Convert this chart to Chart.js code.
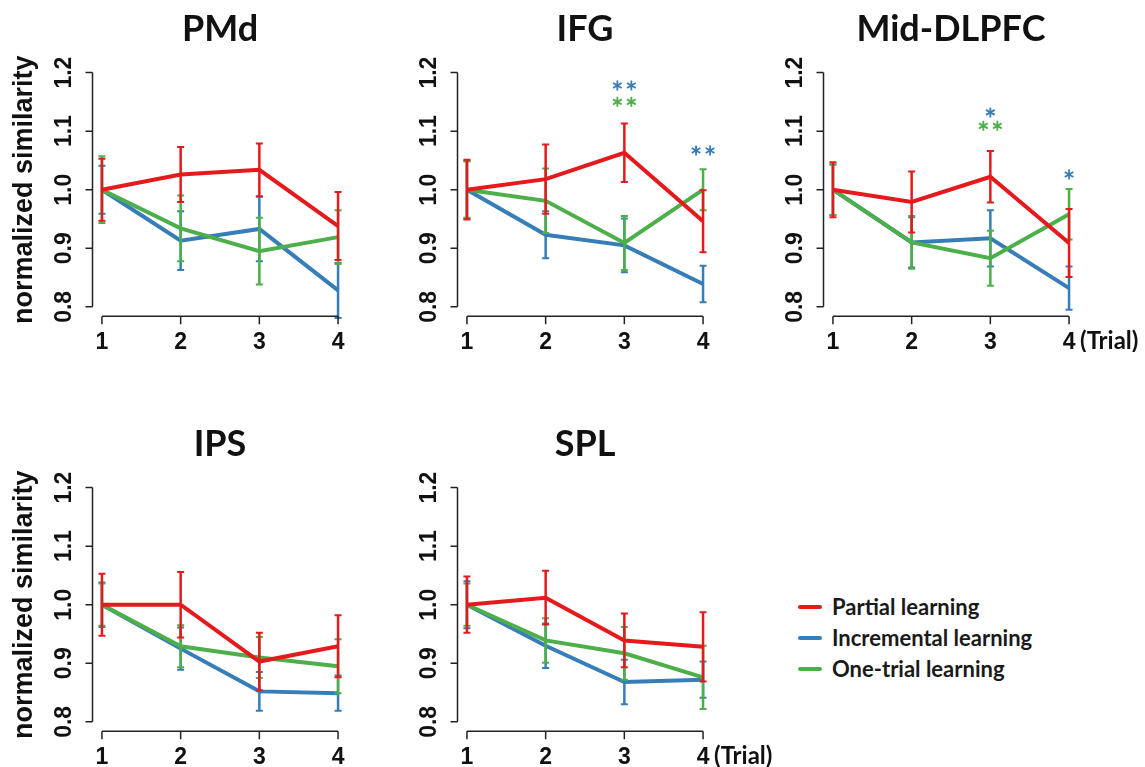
<!DOCTYPE html>
<html>
<head>
<meta charset="utf-8">
<script src="https://cdn.jsdelivr.net/npm/chart.js@4.4.1/dist/chart.umd.min.js"></script>
<style>
    body { margin: 0; background: #fff; width: 1145px; height: 767px; position: relative; overflow: hidden; }
    .panel { position: absolute; }
    #legend { position: absolute; left: 798px; top: 591px; font: bold 22px Lato, sans-serif; color: #1a1a1a; }
    #legend div { height: 31px; display: flex; align-items: center; }
    #legend .sw { display: inline-block; width: 24px; height: 4px; border-radius: 2px; margin-right: 10px; }
</style>
</head>
<body>
<div class="panel" style="left:0px;top:0px"><canvas id="pmd" width="380" height="352"></canvas></div>
<div class="panel" style="left:365px;top:0px"><canvas id="ifg" width="380" height="352"></canvas></div>
<div class="panel" style="left:731px;top:0px"><canvas id="dlpfc" width="414" height="352"></canvas></div>
<div class="panel" style="left:0px;top:415px"><canvas id="ips" width="380" height="352"></canvas></div>
<div class="panel" style="left:365px;top:415px"><canvas id="spl" width="414" height="352"></canvas></div>
<div id="legend"></div>

<script>
// Trials and series
const trials = [1, 2, 3, 4];
const seriesNames = ['Partial learning', 'Incremental learning', 'One-trial learning'];
const seriesColors = ['#e41a1c', '#377eb8', '#4daf4a'];
const yTicks = [0.8, 0.9, 1.0, 1.1, 1.2];
const yTickLabels = ['0.8', '0.9', '1.0', '1.1', '1.2'];

// PMd
const pmdPartial = [1.000, 1.026, 1.034, 0.938];
const pmdPartialErr = [0.053, 0.047, 0.045, 0.058];
const pmdIncremental = [1.000, 0.913, 0.933, 0.828];
const pmdIncrementalErr = [0.041, 0.050, 0.055, 0.047];
const pmdOneTrial = [1.000, 0.934, 0.895, 0.919];
const pmdOneTrialErr = [0.057, 0.056, 0.057, 0.046];

// IFG
const ifgPartial = [1.000, 1.018, 1.063, 0.946];
const ifgPartialErr = [0.051, 0.059, 0.050, 0.053];
const ifgIncremental = [1.000, 0.923, 0.905, 0.839];
const ifgIncrementalErr = [0.049, 0.040, 0.046, 0.031];
const ifgOneTrial = [1.000, 0.981, 0.909, 1.000];
const ifgOneTrialErr = [0.048, 0.055, 0.046, 0.035];

// Mid-DLPFC
const dlpfcPartial = [1.000, 0.979, 1.022, 0.909];
const dlpfcPartialErr = [0.047, 0.052, 0.044, 0.058];
const dlpfcIncremental = [1.000, 0.910, 0.917, 0.832];
const dlpfcIncrementalErr = [0.043, 0.043, 0.048, 0.037];
const dlpfcOneTrial = [1.000, 0.910, 0.883, 0.958];
const dlpfcOneTrialErr = [0.043, 0.045, 0.047, 0.043];

// IPS
const ipsPartial = [1.000, 1.000, 0.903, 0.929];
const ipsPartialErr = [0.053, 0.056, 0.049, 0.053];
const ipsIncremental = [1.000, 0.925, 0.852, 0.849];
const ipsIncrementalErr = [0.038, 0.036, 0.033, 0.030];
const ipsOneTrial = [1.000, 0.929, 0.910, 0.895];
const ipsOneTrialErr = [0.036, 0.036, 0.035, 0.046];

// SPL
const splPartial = [1.000, 1.012, 0.939, 0.928];
const splPartialErr = [0.048, 0.046, 0.046, 0.059];
const splIncremental = [1.000, 0.930, 0.868, 0.872];
const splIncrementalErr = [0.040, 0.038, 0.038, 0.031];
const splOneTrial = [1.000, 0.939, 0.917, 0.876];
const splOneTrialErr = [0.036, 0.038, 0.045, 0.054];

// significance marks: [trial, y, number of stars, series index]
const ifgStars = [[3, 1.178, 2, 1], [3, 1.150, 2, 2], [4, 1.067, 2, 1]];
const dlpfcStars = [[3, 1.132, 1, 1], [3, 1.109, 2, 2], [4, 1.026, 1, 1]];

const TICK_FONT = "bold 23px 'Liberation Sans', Arial, sans-serif";

// error bars drawn right after each line so layering follows the lines
const errorBarPlugin = {
    id: 'errorBars',
    afterDatasetDraw(chart, args) {
        const ds = chart.data.datasets[args.index];
        const xs = chart.scales.x, ys = chart.scales.y;
        const ctx = chart.ctx;
        ctx.save();
        ctx.strokeStyle = ds.borderColor;
        ds.data.forEach((p, k) => {
            const e = ds.errors[k];
            const px = xs.getPixelForValue(p.x);
            const top = ys.getPixelForValue(p.y + e);
            const bot = ys.getPixelForValue(p.y - e);
            ctx.lineWidth = 2.5;
            ctx.beginPath();
            ctx.moveTo(px, top); ctx.lineTo(px, bot);
            ctx.stroke();
            ctx.lineWidth = 2;
            ctx.beginPath();
            ctx.moveTo(px - 3.5, top); ctx.lineTo(px + 3.5, top);
            ctx.moveTo(px - 3.5, bot); ctx.lineTo(px + 3.5, bot);
            ctx.stroke();
        });
        ctx.restore();
    }
};

// R-style axes: lines only span the tick range
const rAxesPlugin = {
    id: 'rAxes',
    afterDraw(chart, args, opts) {
        const ctx = chart.ctx;
        const xs = chart.scales.x, ys = chart.scales.y;
        const area = chart.chartArea;
        ctx.save();
        ctx.strokeStyle = '#222';
        ctx.fillStyle = '#111';
        ctx.lineWidth = 1.5;

        // y axis
        const yTop = ys.getPixelForValue(yTicks[yTicks.length - 1]);
        const yBot = ys.getPixelForValue(yTicks[0]);
        ctx.beginPath();
        ctx.moveTo(area.left, yTop); ctx.lineTo(area.left, yBot);
        yTicks.forEach(v => {
            const py = ys.getPixelForValue(v);
            ctx.moveTo(area.left, py); ctx.lineTo(area.left - 7, py);
        });
        // x axis
        const xL = xs.getPixelForValue(trials[0]);
        const xR = xs.getPixelForValue(trials[trials.length - 1]);
        ctx.moveTo(xL, area.bottom); ctx.lineTo(xR, area.bottom);
        trials.forEach(t => {
            const px = xs.getPixelForValue(t);
            ctx.moveTo(px, area.bottom); ctx.lineTo(px, area.bottom + 8);
        });
        ctx.stroke();

        // y tick labels, rotated
        ctx.font = TICK_FONT;
        ctx.textAlign = 'center';
        ctx.textBaseline = 'middle';
        yTicks.forEach((v, i) => {
            ctx.save();
            ctx.translate(area.left - 28, ys.getPixelForValue(v));
            ctx.rotate(-Math.PI / 2);
            ctx.fillText(yTickLabels[i], 0, 0);
            ctx.restore();
        });
        // x tick labels
        trials.forEach(t => {
            ctx.fillText(String(t), xs.getPixelForValue(t), area.bottom + 26);
        });

        if (opts.trialLabel) {
            ctx.textAlign = 'left';
            ctx.font = "bold 24px Lato, sans-serif";
            ctx.fillText('(Trial)', xR + 11, area.bottom + 25);
        }

        if (opts.yTitle) {
            ctx.save();
            ctx.font = "bold 27px 'Liberation Sans', Arial, sans-serif";
            ctx.textAlign = 'center';
            ctx.translate(area.left - 68, (yTop + yBot) / 2);
            ctx.rotate(-Math.PI / 2);
            ctx.fillText(opts.yTitle, 0, 0);
            ctx.restore();
        }

        // asterisks
        (opts.stars || []).forEach(s => {
            const [t, v, n, si] = s;
            const cx = xs.getPixelForValue(t), cy = ys.getPixelForValue(v);
            ctx.strokeStyle = seriesColors[si];
            ctx.lineWidth = 1.8;
            for (let j = 0; j < n; j++) {
                const sx = cx + (n === 2 ? (j === 0 ? -7 : 7) : 0);
                ctx.beginPath();
                for (let a = 0; a < 3; a++) {
                    const ang = Math.PI / 2 + a * Math.PI / 3;
                    ctx.moveTo(sx - 5 * Math.cos(ang), cy - 5 * Math.sin(ang));
                    ctx.lineTo(sx + 5 * Math.cos(ang), cy + 5 * Math.sin(ang));
                }
                ctx.stroke();
            }
        });
        ctx.restore();
    }
};

function makePanel(id, title, series, extra) {
    const canvas = document.getElementById(id);
    const drawOrder = [0, 2, 1]; // red on top, then green, blue underneath
    const datasets = series.map((s, i) => ({
        label: seriesNames[i],
        data: trials.map((t, k) => ({ x: t, y: s[0][k] })),
        errors: s[1],
        borderColor: seriesColors[i],
        backgroundColor: seriesColors[i],
        borderWidth: 4,
        pointRadius: 0,
        tension: 0,
        order: drawOrder[i]
    }));

    return new Chart(canvas, {
        type: 'line',
        data: { datasets: datasets },
        options: {
            responsive: false,
            animation: false,
            layout: {
                padding: { left: 92.5, right: canvas.width - 92.5 - 255, top: 0, bottom: 35.8 }
            },
            scales: {
                x: { type: 'linear', min: 0.88, max: 4.12, display: false },
                y: { type: 'linear', min: 0.784, max: 1.216, display: false }
            },
            plugins: {
                legend: { display: false },
                tooltip: { enabled: false },
                title: {
                    display: true,
                    text: title,
                    color: '#111',
                    font: { family: 'Lato, sans-serif', size: 36, weight: 'bold', lineHeight: 1.2 },
                    padding: { top: 8, bottom: 12 }
                },
                rAxes: extra
            }
        },
        plugins: [errorBarPlugin, rAxesPlugin]
    });
}

makePanel('pmd', 'PMd', [[pmdPartial, pmdPartialErr], [pmdIncremental, pmdIncrementalErr], [pmdOneTrial, pmdOneTrialErr]],
    { yTitle: 'normalized similarity' });
makePanel('ifg', 'IFG', [[ifgPartial, ifgPartialErr], [ifgIncremental, ifgIncrementalErr], [ifgOneTrial, ifgOneTrialErr]],
    { stars: ifgStars });
makePanel('dlpfc', 'Mid-DLPFC', [[dlpfcPartial, dlpfcPartialErr], [dlpfcIncremental, dlpfcIncrementalErr], [dlpfcOneTrial, dlpfcOneTrialErr]],
    { stars: dlpfcStars, trialLabel: true });
makePanel('ips', 'IPS', [[ipsPartial, ipsPartialErr], [ipsIncremental, ipsIncrementalErr], [ipsOneTrial, ipsOneTrialErr]],
    { yTitle: 'normalized similarity' });
makePanel('spl', 'SPL', [[splPartial, splPartialErr], [splIncremental, splIncrementalErr], [splOneTrial, splOneTrialErr]],
    { trialLabel: true });

// shared legend
const legendEl = document.getElementById('legend');
seriesNames.forEach((name, i) => {
    const row = document.createElement('div');
    row.innerHTML = '<span class="sw" style="background:' + seriesColors[i] + '"></span>' + name;
    legendEl.appendChild(row);
});
</script>
</body>
</html>
